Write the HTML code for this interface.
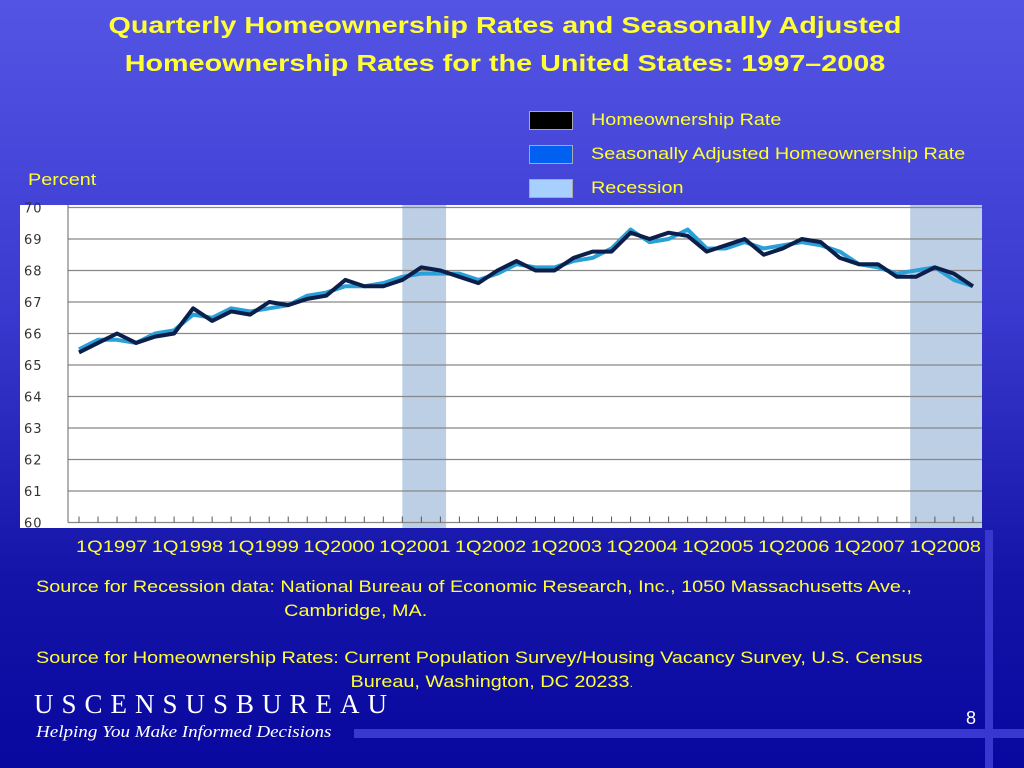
<!DOCTYPE html>
<html><head><meta charset="utf-8"><style>
body{margin:0;width:1024px;height:768px;overflow:hidden;background:linear-gradient(#5454e4 0%,#3a3ad0 40%,#1414a8 75%,#0808a0 100%);font-family:"Liberation Sans",sans-serif;position:relative}
.t{position:absolute;color:#ffff33;white-space:nowrap;transform-origin:0 0}
.s{transform:scaleX(1.165)}
</style></head><body>
<div class="t" style="left:0;width:1010px;top:6px;text-align:center;font-weight:bold;font-size:23px;line-height:38px;transform:scaleX(1.25);transform-origin:505px 0">Quarterly Homeownership Rates and Seasonally Adjusted<br>Homeownership Rates for the United States: 1997–2008</div>
<div>
<div style="position:absolute;left:529px;top:111px;width:42px;height:17px;background:#000;border:1px solid #aaa"></div>
<div class="t s" style="left:591px;top:110px;font-size:17px">Homeownership Rate</div>
<div style="position:absolute;left:529px;top:145px;width:42px;height:17px;background:#0060f0;border:1px solid #aaa"></div>
<div class="t s" style="left:591px;top:144px;font-size:17px">Seasonally Adjusted Homeownership Rate</div>
<div style="position:absolute;left:529px;top:179px;width:42px;height:17px;background:#a8d0ff;border:1px solid #aaa"></div>
<div class="t s" style="left:591px;top:178px;font-size:17px">Recession</div>
</div>
<div class="t s" style="left:28px;top:170px;font-size:17px">Percent</div>
<svg id="chart" width="1024" height="768" style="position:absolute;left:0;top:0"></svg>
<div class="t" style="left:76px;top:537px;font-size:17px;word-spacing:-1px;transform:scaleX(1.18)">1Q1997 1Q1998 1Q1999 1Q2000 1Q2001 1Q2002 1Q2003 1Q2004 1Q2005 1Q2006 1Q2007 1Q2008</div>
<div class="t s" style="left:36px;top:575px;font-size:17px;line-height:24px">Source for Recession data: National Bureau of Economic Research, Inc., 1050 Massachusetts Ave.,<br><span style="padding-left:213px">Cambridge, MA.</span></div>
<div class="t s" style="left:36px;top:646px;font-size:17px;line-height:24px">Source for Homeownership Rates: Current Population Survey/Housing Vacancy Survey, U.S. Census<br><span style="padding-left:270px">Bureau, Washington, DC 20233<span style="font-size:11px">.</span></span></div>
<div style="position:absolute;left:34px;top:689px;color:#fff;font-family:'Liberation Serif',serif;font-size:27px;letter-spacing:8px;white-space:nowrap">USCENSUSBUREAU</div>
<div style="position:absolute;left:36px;top:722px;color:#fff;font-family:'Liberation Serif',serif;font-style:italic;font-size:17px;white-space:nowrap;transform:scaleX(1.12);transform-origin:0 0">Helping You Make Informed Decisions</div>
<div style="position:absolute;left:354px;top:729px;width:670px;height:9px;background:#3838d0"></div>
<div style="position:absolute;left:985px;top:530px;width:8px;height:238px;background:#3838d0"></div>
<div style="position:absolute;left:966px;top:708px;color:#fff;font-size:18px">8</div>
<script>
const rate=[65.4,65.7,66.0,65.7,65.9,66.0,66.8,66.4,66.7,66.6,67.0,66.9,67.1,67.2,67.7,67.5,67.5,67.7,68.1,68.0,67.8,67.6,68.0,68.3,68.0,68.0,68.4,68.6,68.6,69.2,69.0,69.2,69.1,68.6,68.8,69.0,68.5,68.7,69.0,68.9,68.4,68.2,68.2,67.8,67.8,68.1,67.9,67.5];
const saRate=[65.5,65.8,65.8,65.7,66.0,66.1,66.6,66.5,66.8,66.7,66.8,66.9,67.2,67.3,67.5,67.5,67.6,67.8,67.9,67.9,67.9,67.7,67.9,68.2,68.1,68.1,68.3,68.4,68.7,69.3,68.9,69.0,69.3,68.7,68.7,68.9,68.7,68.8,68.9,68.8,68.6,68.2,68.1,67.9,68.0,68.1,67.7,67.5];
const recessionStart=[17,43.7];
const recessionEnd=[19.3,47.5];
const yTicks=[60,61,62,63,64,65,66,67,68,69,70];
const NS='http://www.w3.org/2000/svg';
const svg=document.getElementById('chart');
const L=68,R=982,T=205,B=528;
const X=i=>79+i*19.02;
const Y=v=>522.5-(v-60)*31.5;
function el(t,a){const e=document.createElementNS(NS,t);for(const k in a)e.setAttribute(k,a[k]);svg.appendChild(e);return e;}
const bg=el('rect',{x:L,y:T,width:R-L,height:B-T,fill:'#fff'});


const lb=el('rect',{x:20,y:T,width:48,height:B-T,fill:'#fff'});


recessionStart.forEach((s,k)=>{
 const r=el('rect',{x:X(s),y:T,width:Math.min(X(recessionEnd[k]),R)-X(s),height:B-T,fill:'#bccfe4'});
 
 
});
yTicks.forEach(v=>{
 const g=el('line',{x1:L,x2:R,y1:Y(v),y2:Y(v),stroke:'#888','stroke-width':1.2});
 
 
 const t=el('text',{x:24,y:Y(v)+5,'font-size':13,fill:'#333','font-family':'DejaVu Sans, sans-serif','letter-spacing':1});
 t.textContent=v;
 
 
});
el('line',{x1:L,x2:L,y1:T,y2:Y(60),stroke:'#666'});
for(let i=0;i<rate.length;i++){
 const tk=el('line',{x1:X(i),x2:X(i),y1:Y(60)-6,y2:Y(60),stroke:'#555'});
 
 
}
function line(d,c,w,n){
 const p=el('polyline',{points:d.map((v,i)=>X(i)+','+Y(v)).join(' '),fill:'none',stroke:c,'stroke-width':w,'stroke-linejoin':'round'});
 
 
}
line(saRate,'#2aa0d8',4,'sa-rate-line');
line(rate,'#0c1e4a',4,'rate-line');
</script>
</body></html>
